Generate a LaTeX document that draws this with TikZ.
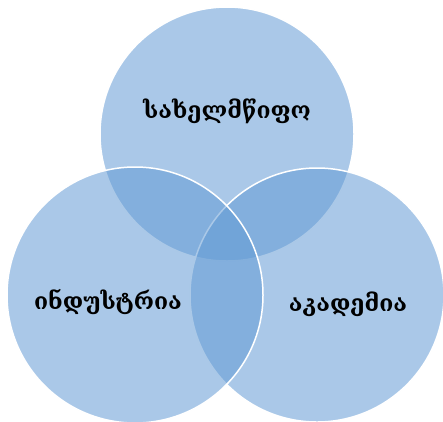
\documentclass[tikz,border=0pt]{standalone}
\usepackage{fontspec}
\newfontfamily\geofont{DejaVu Serif}
\definecolor{vennblue}{RGB}{98,154,212}
\begin{document}
\begin{tikzpicture}[x=1pt,y=-1pt,every node/.style={font=\geofont\bfseries\fontsize{23}{27}\selectfont}]
  \useasboundingbox (0,0) rectangle (443,421);
  \node[circle,draw=white,line width=1.5pt,fill=vennblue,fill opacity=0.54,minimum size=254pt] (state) at (227,134) {};
  \node[circle,draw=white,line width=1.5pt,fill=vennblue,fill opacity=0.54,minimum size=254pt] (academy) at (317,295) {};
  \node[circle,draw=white,line width=1.5pt,fill=vennblue,fill opacity=0.54,minimum size=256pt] (industry) at (135,295) {};
  \node (statelbl) at (227,111) {სახელმწიფო};
  \node (industrylbl) at (108,302) {ინდუსტრია};
  \node (academylbl) at (348,304) {აკადემია};
\end{tikzpicture}
\end{document}
